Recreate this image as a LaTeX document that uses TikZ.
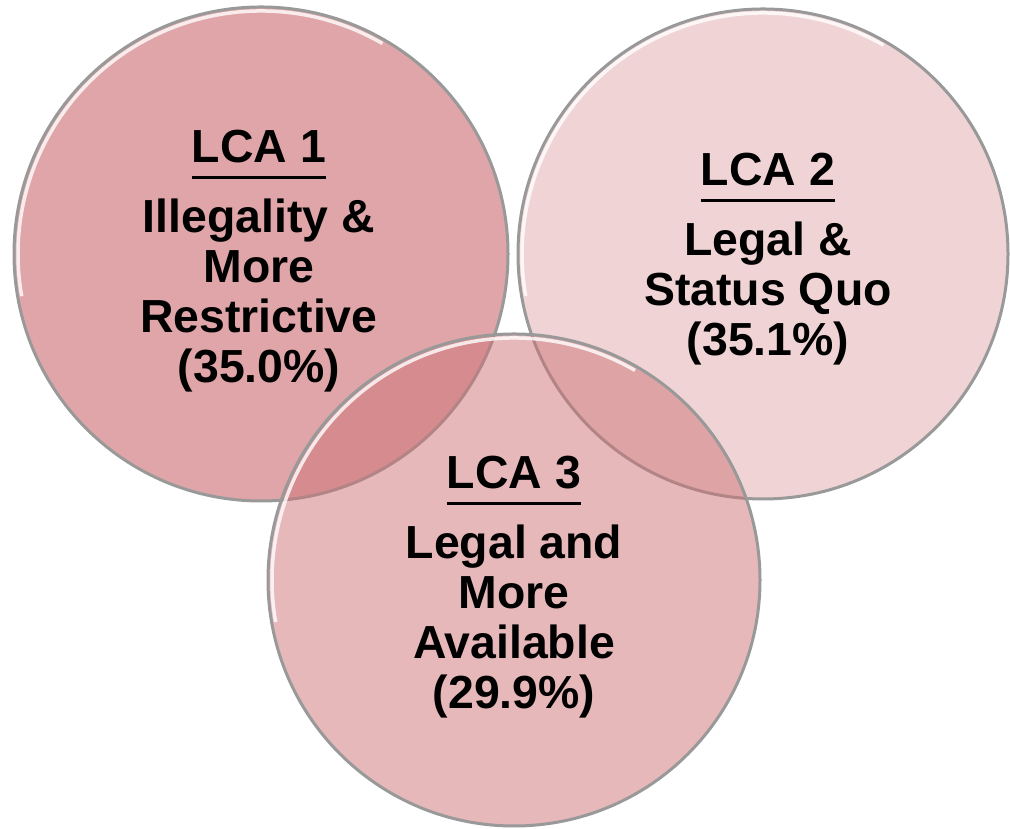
\documentclass[tikz,border=0pt]{standalone}
\usepackage{fontspec}
\setmainfont{Liberation Sans}
\definecolor{lcared}{RGB}{205,113,117}
\def\lcaul#1{\setbox0\hbox{#1}\rlap{\rule[-0.16cm]{\wd0}{0.03cm}}\box0}
\def\glintarc(#1,#2)(#3){\draw[white, line width=0.35mm, opacity=0.8] (#1,#2) ++(60:#3) arc (60:190:#3);}

\begin{document}
\begin{tikzpicture}
		%%%%% START %%%%%
		\useasboundingbox (0, 0) rectangle (10.1, 8.29);
		
		\draw[fill=lcared, fill opacity=0.63, draw=black!40, line width=0.3mm] (2.61, 5.75) circle (2.47);
		\glintarc(2.61,5.75)(2.43);
		
		\draw[fill=lcared, fill opacity=0.30, draw=black!40, line width=0.3mm] (7.63, 5.75) circle (2.45);
		\glintarc(7.63,5.75)(2.41);
		
		\draw[fill=lcared, fill opacity=0.50, draw=black!40, line width=0.3mm] (5.14, 2.49) circle (2.46);
		\glintarc(5.14,2.49)(2.42);
		
		\node[font=\bfseries\fontsize{13.2}{14.2}\selectfont, align=center, inner sep=0] (lcaA) at (2.59, 5.68) {\lcaul{LCA 1}\\[0.2cm] Illegality \&\\ More\\ Restrictive\\ (35.0\%)};
		\node[font=\bfseries\fontsize{13.2}{14.2}\selectfont, align=center, inner sep=0] (lcaB) at (7.68, 5.7) {\lcaul{LCA 2}\\[0.2cm] Legal \&\\ Status Quo\\ (35.1\%)};
		\node[font=\bfseries\fontsize{13.2}{14.2}\selectfont, align=center, inner sep=0] (lcaC) at (5.14, 2.42) {\lcaul{LCA 3}\\[0.2cm] Legal and\\ More\\ Available\\ (29.9\%)};
		
		%%%%% END %%%%%
	\end{tikzpicture}
\end{document}
